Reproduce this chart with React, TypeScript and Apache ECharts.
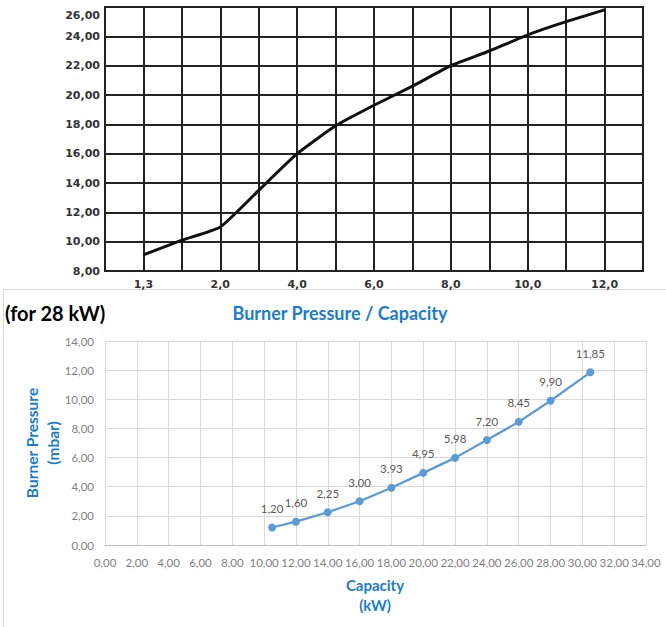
import React, { useEffect, useRef } from "react";
import * as echarts from "echarts";

// Top chart data
const topXLabels = ["", "1,3", "", "2,0", "", "4,0", "", "6,0", "", "8,0", "", "10,0", "", "12,0", ""];
const topValues: (number | null)[] = [null, 9.1, 10.1, 11.0, 13.5, 16.0, 17.9, 19.3, 20.6, 22.0, 23.0, 24.1, 25.0, 25.8, null];

// Bottom chart data
const capacity = [10.5, 12, 14, 16, 18, 20, 22, 24, 26, 28, 30.5];
const pressure = [1.2, 1.6, 2.25, 3.0, 3.93, 4.95, 5.98, 7.2, 8.45, 9.9, 11.85];

const chartTitle = "Burner Pressure / Capacity";
const noteText = "(for 28 kW)";
const yName = "Burner Pressure\n(mbar)";
const xName = "Capacity\n(kW)";

const comma = (v: number, d: number) => v.toFixed(d).replace(".", ",");

export default function App() {
  const ref = useRef<HTMLDivElement>(null);
  useEffect(() => {
    if (!ref.current) return;
    const chart = echarts.init(ref.current, undefined, { renderer: "svg" });
    const blue = "#1B7CCB";
    const font = "Lato";
    chart.setOption({
      animation: false,
      backgroundColor: "#fff",
      graphic: [
        {
          type: "rect",
          shape: { x: 3.5, y: 289.5, width: 700, height: 400 },
          style: { fill: "none", stroke: "#D9D9D9", lineWidth: 1 },
          silent: true,
        },
        {
          type: "text",
          x: 5,
          y: 313,
          style: {
            text: noteText,
            font: `bold 20px ${font}`,
            fill: "#000",
            verticalAlign: "middle",
            backgroundColor: "#fff",
            padding: [3, 2, 3, 0],
          },
        },
        {
          type: "text",
          x: 340,
          y: 313,
          style: {
            text: chartTitle,
            font: `bold 18px ${font}`,
            fill: blue,
            align: "center",
            verticalAlign: "middle",
          },
        },
        {
          type: "text",
          x: 42,
          y: 443,
          rotation: Math.PI / 2,
          style: {
            text: yName,
            font: `bold 15.5px ${font}`,
            fill: blue,
            align: "center",
            verticalAlign: "middle",
            lineHeight: 21,
          },
        },
        {
          type: "text",
          x: 375,
          y: 595,
          style: {
            text: xName,
            font: `bold 15px ${font}`,
            fill: blue,
            align: "center",
            verticalAlign: "middle",
            lineHeight: 20,
          },
        },
      ],
      grid: [
        { left: 105, top: 7, width: 538, height: 264, show: true, borderColor: "#222", borderWidth: 2, backgroundColor: "#fff" },
        { left: 105, top: 341, width: 541, height: 204 },
      ],
      xAxis: [
        {
          gridIndex: 0,
          type: "category",
          data: topXLabels,
          boundaryGap: false,
          axisLine: { show: true, lineStyle: { color: "#222", width: 2 } },
          axisTick: { show: false },
          splitLine: { show: true, interval: 0, lineStyle: { color: "#222", width: 2 } },
          axisLabel: {
            interval: 0,
            margin: 8,
            color: "#333",
            fontFamily: "DejaVu Sans",
            fontWeight: "bold",
            fontSize: 11,
          },
        },
        {
          gridIndex: 1,
          type: "value",
          min: 0,
          max: 34,
          interval: 2,
          axisLine: { show: true, lineStyle: { color: "#BFBFBF", width: 1 } },
          axisTick: { show: false },
          splitLine: { show: true, lineStyle: { color: "#D9D9D9", width: 1 } },
          axisLabel: {
            margin: 11,
            color: "#7F7F7F",
            fontFamily: font,
            fontSize: 11.5,
            formatter: (v: number) => comma(v, 2),
          },
        },
      ],
      yAxis: [
        {
          gridIndex: 0,
          type: "value",
          min: 8,
          max: 26,
          interval: 2,
          axisLine: { show: true, lineStyle: { color: "#222", width: 2 } },
          axisTick: { show: false },
          splitLine: { show: true, lineStyle: { color: "#222", width: 2 } },
          axisLabel: {
            margin: 5,
            color: "#333",
            fontFamily: "DejaVu Sans",
            fontWeight: "bold",
            fontSize: 11,
            formatter: (v: number) => (v === 26 ? `{t|${comma(v, 2)}}` : comma(v, 2)),
            rich: {
              t: {
                color: "#333",
                fontFamily: "DejaVu Sans",
                fontWeight: "bold",
                fontSize: 11,
                padding: [16, 0, 0, 0],
              },
            },
          },
        },
        {
          gridIndex: 1,
          type: "value",
          min: 0,
          max: 14,
          interval: 2,
          axisLine: { show: false },
          axisTick: { show: false },
          splitLine: { show: true, lineStyle: { color: "#D9D9D9", width: 1 } },
          axisLabel: {
            margin: 11,
            color: "#7F7F7F",
            fontFamily: font,
            fontSize: 11.5,
            formatter: (v: number) => comma(v, 2),
          },
        },
      ],
      series: [
        {
          type: "line",
          xAxisIndex: 0,
          yAxisIndex: 0,
          data: topValues,
          showSymbol: false,
          symbol: "none",
          smooth: 0.15,
          lineStyle: { color: "#111", width: 3 },
        },
        {
          type: "line",
          xAxisIndex: 1,
          yAxisIndex: 1,
          data: capacity.map((c, i) => [c, pressure[i]]),
          symbol: "circle",
          symbolSize: 8,
          itemStyle: { color: "#5B9BD5" },
          lineStyle: { color: "#5B9BD5", width: 2.25 },
          label: {
            show: true,
            position: "top",
            distance: 9,
            color: "#595959",
            fontFamily: font,
            fontSize: 11.5,
            formatter: (p: any) => comma(p.value[1], 2),
          },
        },
      ],
    });
    return () => chart.dispose();
  }, []);
  return (
    <div
      ref={ref}
      style={{ position: "absolute", left: 0, top: 0, width: 666, height: 627 }}
    />
  );
}
